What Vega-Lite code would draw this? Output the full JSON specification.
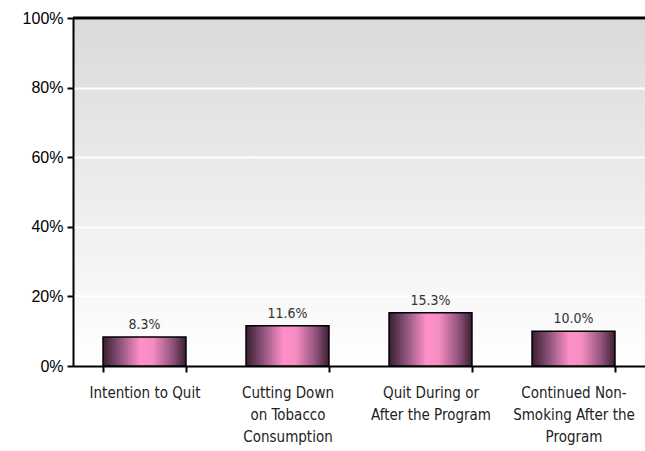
{
  "$schema": "https://vega.github.io/schema/vega-lite/v6.json",
  "width": 572,
  "height": 348,
  "autosize": {"type": "none"},
  "padding": {"left": 73, "top": 18, "right": 0, "bottom": 85},
  "background": "white",
  "config": {
    "view": {
      "stroke": null,
      "fill": {
        "gradient": "linear", "x1": 0, "y1": 0, "x2": 0, "y2": 1,
        "stops": [{"offset": 0, "color": "#dadada"}, {"offset": 1, "color": "#ffffff"}]
      }
    },
    "axis": {"domainColor": "black", "tickColor": "black", "labelColor": "black"},
    "axisY": {"labelFont": "Liberation Sans, Arial, sans-serif", "labelFontSize": 16}
  },
  "data": {
    "values": [
      {"category": "Intention to Quit", "value": 0.083},
      {"category": "Cutting Down|on Tobacco|Consumption", "value": 0.116},
      {"category": "Quit During or|After the Program", "value": 0.153},
      {"category": "Continued Non-|Smoking After the|Program", "value": 0.100}
    ]
  },
  "layer": [
    {
      "mark": {
        "type": "bar",
        "stroke": "black",
        "strokeWidth": 1.5,
        "fill": {
          "gradient": "linear", "x1": 0, "y1": 0, "x2": 1, "y2": 0,
          "stops": [
            {"offset": 0, "color": "#3a1e30"},
            {"offset": 0.2, "color": "#8a5278"},
            {"offset": 0.45, "color": "#ff90c8"},
            {"offset": 0.6, "color": "#f58ec2"},
            {"offset": 0.85, "color": "#8c5078"},
            {"offset": 1, "color": "#3a1e30"}
          ]
        }
      },
      "encoding": {
        "x": {
          "field": "category", "type": "nominal", "sort": null,
          "scale": {"paddingInner": 0.42, "paddingOuter": 0.21},
          "axis": {
            "title": null, "labelAngle": 0, "tickBand": "extent", "tickSize": 6,
            "domainWidth": 2, "tickWidth": 2,
            "labelExpr": "datum.value ? split(datum.value, '|') : ''",
            "labelFont": "DejaVu Sans Condensed, Liberation Sans, sans-serif", "labelFontSize": 15, "labelColor": "#222",
            "labelLineHeight": 22, "labelPadding": 13, "labelBaseline": "top"
          }
        },
        "y": {
          "field": "value", "type": "quantitative",
          "scale": {"domain": [0, 1]},
          "axis": {
            "title": null, "format": ".0%", "values": [0, 0.2, 0.4, 0.6, 0.8, 1],
            "gridColor": "white", "gridWidth": 2, "gridOpacity": 1,
            "tickSize": 6, "domainWidth": 2, "tickWidth": 2,
            "labelFont": "Liberation Sans, Arial, sans-serif", "labelFontSize": 16, "labelPadding": 4
          }
        }
      }
    },
    {
      "data": {"values": [{"v": 1}]},
      "mark": {"type": "rule", "color": "black", "strokeWidth": 3},
      "encoding": {"y": {"field": "v", "type": "quantitative"}}
    },
    {
      "mark": {"type": "text", "dy": -12, "font": "DejaVu Sans Condensed, Liberation Sans, sans-serif", "fontSize": 14, "color": "#333"},
      "encoding": {
        "x": {"field": "category", "type": "nominal", "sort": null},
        "y": {"field": "value", "type": "quantitative"},
        "text": {"field": "value", "type": "quantitative", "format": ".1%"}
      }
    }
  ]
}
